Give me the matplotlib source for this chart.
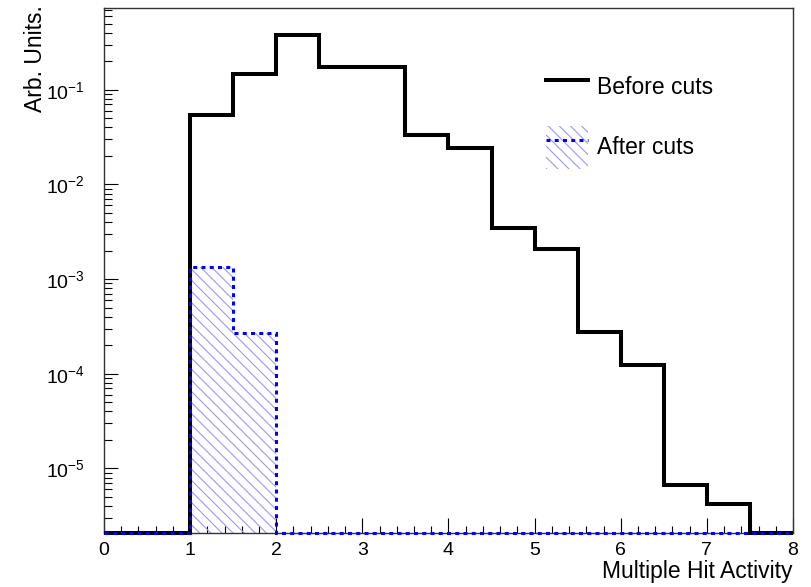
import numpy as np
import matplotlib
matplotlib.use("Agg")
import matplotlib.pyplot as plt
from matplotlib.lines import Line2D
from matplotlib.patches import Patch

plt.rcParams['font.family'] = ['Liberation Sans', 'DejaVu Sans']
plt.rcParams['mathtext.fontset'] = 'custom'
plt.rcParams['mathtext.rm'] = 'Liberation Sans'
plt.rcParams['mathtext.default'] = 'regular'
plt.rcParams['hatch.linewidth'] = 0.8

# histogram contents, 16 bins of width 0.5 between 0 and 8
edges = np.arange(0, 8.01, 0.5)
before = [0, 0, 0.0545, 0.145, 0.383, 0.172, 0.174, 0.0335,
          0.0244, 0.0035, 0.0021, 2.77e-4, 1.25e-4, 6.67e-6, 4.17e-6, 0]
after = [0, 0, 1.34e-3, 2.66e-4, 0, 0, 0, 0,
         0, 0, 0, 0, 0, 0, 0, 0]

ymin, ymax = 2.09e-6, 0.739

fig = plt.figure(figsize=(8.12, 5.87), dpi=100)
ax = fig.add_axes([104/812, 1-532.7/587, (793-104)/812, (532.7-7.5)/587])

# empty bins sit on the frame like ROOT does
b = np.where(np.array(before) > 0, before, ymin)
a = np.where(np.array(after) > 0, after, ymin)

hatchcol = (0.6, 0.6, 1.0)
hatch = '\\\\\\'
blue = (0, 0, 1)
dots = (0, (1.3, 1.4))

ax.stairs(b, edges, baseline=None, color='black', lw=2.9, clip_on=False,
          joinstyle='miter', zorder=3)
ax.stairs(a, edges, baseline=ymin, fill=True, facecolor='none',
          edgecolor=hatchcol, hatch=hatch, lw=0, zorder=2)
ax.stairs(a, edges, baseline=None, color=blue, lw=2.2, ls=dots,
          clip_on=False, zorder=4)

ax.set_yscale('log')
ax.set_xlim(0, 8)
ax.set_ylim(ymin, ymax)

ax.set_xticks(np.arange(0, 9, 1))
ax.set_xticks(np.arange(0, 8.01, 0.2), minor=True)
ax.tick_params(axis='x', which='major', direction='in', length=10.5,
               width=0.8, labelsize=14, pad=7, top=False)
ax.tick_params(axis='x', which='minor', direction='in', length=5,
               width=0.8, top=False)
ax.tick_params(axis='y', which='major', direction='in', length=10,
               width=0.8, labelsize=14, pad=14, right=False)
ax.tick_params(axis='y', which='minor', direction='in', length=5.5,
               width=0.8, right=False)
ax.yaxis.set_minor_formatter(plt.NullFormatter())

for s in ax.spines.values():
    s.set_color('#333333')
    s.set_linewidth(1.0)

fig.text(35/812, 1-5/587, 'Arb. Units.', rotation=90, ha='center',
         va='top', fontsize=16.5)
fig.text(793/812, 1-571.7/587, 'Multiple Hit Activity', ha='right',
         va='center', fontsize=16.5)

handles = [Line2D([], [], color='black', lw=2.9),
           (Patch(facecolor='none', edgecolor=hatchcol, hatch=hatch, lw=0),
            Line2D([], [], color=blue, lw=2.2, ls=dots))]
ax.legend(handles, ['Before cuts', 'After cuts'], frameon=False,
          fontsize=16.5, loc='upper left',
          bbox_to_anchor=(546/812, 1-65.5/587),
          bbox_transform=fig.transFigure, borderaxespad=0, borderpad=0,
          handlelength=1.84, handleheight=2.55, labelspacing=0.72,
          handletextpad=0.4)

fig.savefig('out.png', dpi=100)
